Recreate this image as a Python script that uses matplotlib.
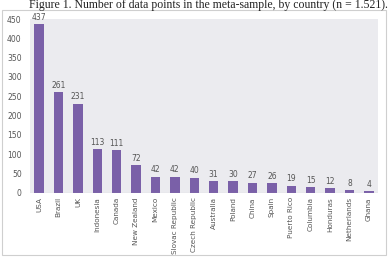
import matplotlib.pyplot as plt
import numpy as np
from matplotlib.patches import Rectangle

countries = ['USA', 'Brazil', 'UK', 'Indonesia', 'Canada', 'New Zealand', 'Mexico',
             'Slovac Republic', 'Czech Republic', 'Australia', 'Poland', 'China', 'Spain',
             'Puerto Rico', 'Columbia', 'Honduras', 'Netherlands', 'Ghana']
counts = [437, 261, 231, 113, 111, 72, 42, 42, 40, 31, 30, 27, 26, 19, 15, 12, 8, 4]
yticks = [0, 50, 100, 150, 200, 250, 300, 350, 400, 450]

fig = plt.figure(figsize=(3.89, 2.61), dpi=100)

# Rahmen um das Diagramm
fig.patches.append(Rectangle((2 / 389, 6 / 261), 384 / 389, 245 / 261, transform=fig.transFigure,
                             fill=False, edgecolor='#cfcfcf', linewidth=0.8))

fig.text(0.535, 0.982, 'Figure 1. Number of data points in the meta-sample, by country (n = 1.521).',
         ha='center', va='center', family='Liberation Serif', fontsize=8.5, color='#222222')

ax = fig.add_axes([30 / 389, 68 / 261, 348 / 389, 174 / 261])
ax.set_facecolor('#ebebef')
x = np.arange(len(countries))
ax.bar(x, counts, width=0.49, color='#7a60a8')
for xi, c in zip(x, counts):
    ax.text(xi, c + 6, str(c), ha='center', va='bottom', fontsize=5.5, color='#555555')

ax.set_xlim(-0.47, len(countries) - 0.53)
ax.set_ylim(0, 450)
ax.set_yticks(yticks)
ax.set_xticks(x)
ax.set_xticklabels(countries, rotation=90, fontsize=5.2, color='#555555')
ax.tick_params(axis='y', labelsize=5.5, labelcolor='#555555', length=0, pad=6)
ax.tick_params(axis='x', length=0, pad=3)
for s in ax.spines.values():
    s.set_visible(False)
ax.axhline(0, color='#bbbbbb', linewidth=0.8)

fig.savefig('out.png', dpi=100)
